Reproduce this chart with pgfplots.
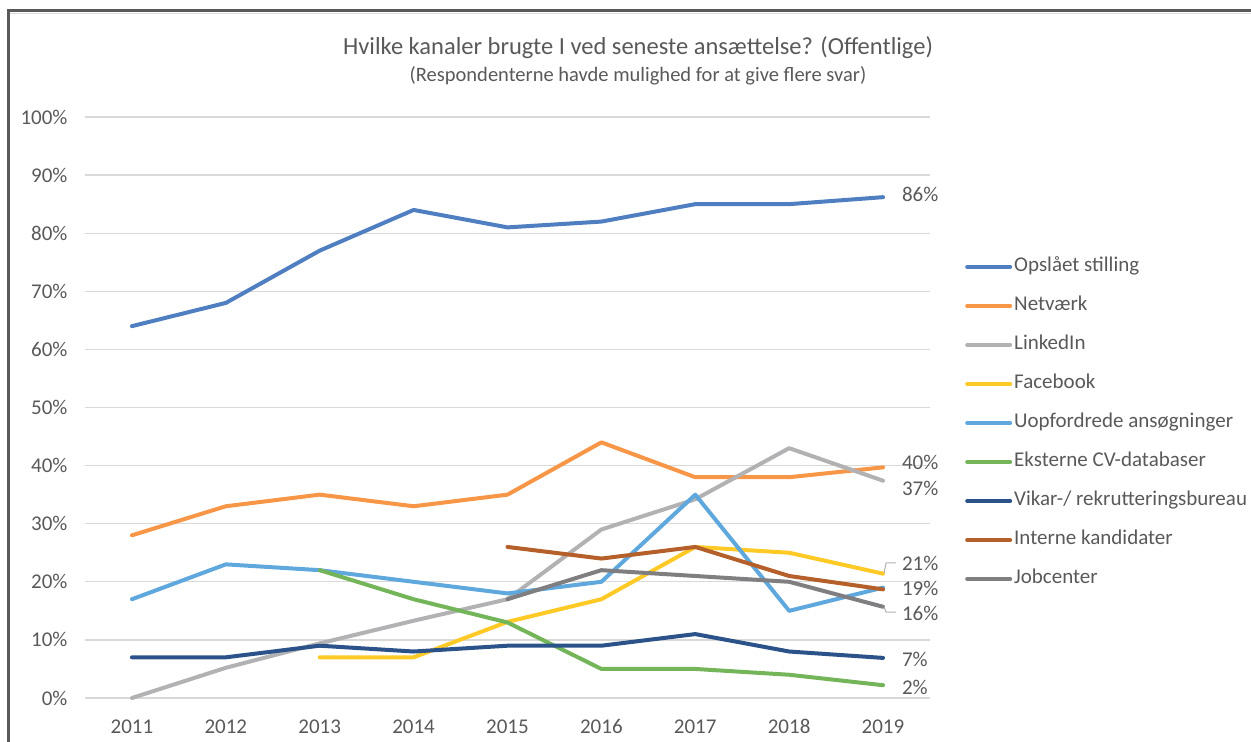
\documentclass[border=0pt]{standalone}
\usepackage{fontspec}
\setmainfont{Carlito}
\usepackage{pgfplots}
\pgfplotsset{compat=1.18}
\definecolor{txt}{HTML}{595959}
\definecolor{gridc}{HTML}{D9D9D9}
\definecolor{frame}{HTML}{595959}
\definecolor{cA}{HTML}{4F7FC0}
\definecolor{cB}{HTML}{F79646}
\definecolor{cC}{HTML}{B2B2B4}
\definecolor{cD}{HTML}{FFC926}
\definecolor{cE}{HTML}{5FA8DD}
\definecolor{cF}{HTML}{74B55A}
\definecolor{cG}{HTML}{2B5389}
\definecolor{cH}{HTML}{B5602A}
\definecolor{cI}{HTML}{7F7F82}
\begin{document}
\begin{tikzpicture}[x=1pt,y=1pt]
\path[use as bounding box] (0,0) rectangle (1251,742);
\draw[line width=1.5pt, color=gridc] (10,728.5) -- (1251,728.5);
\draw[line width=3pt, color=frame] (8.5,0) -- (8.5,731) -- (1251,731);
\node[txt, font=\fontsize{24.5}{28}\selectfont] at (638,694) {Hvilke kanaler brugte I ved seneste ansættelse? (Offentlige)};
\node[txt, font=\fontsize{20.5}{24}\selectfont] at (638,666) {(Respondenterne havde mulighed for at give flere svar)};
\begin{axis}[
  at={(85pt,44pt)}, anchor=south west,
  scale only axis, width=845pt, height=581pt,
  xmin=2010.5, xmax=2019.5, ymin=0, ymax=100, clip=false,
  xtick={2011,...,2019}, ytick={0,10,...,100},
  /pgf/number format/assume math mode=true,
  xticklabel style={/pgf/number format/1000 sep={}, yshift=-18pt},
  yticklabel style={xshift=-14pt},
  yticklabel={\pgfmathprintnumber{\tick}\%},
  ticklabel style={txt, font=\fontsize{21}{25}\selectfont},
  axis line style={draw=none}, tick style={draw=none},
  ymajorgrids, major grid style={gridc, line width=1.3pt},
  every axis plot/.append style={line width=4pt, line join=round, line cap=round},
  legend style={at={(1.0414,0.763)}, anchor=north west, draw=none, fill=none,
    font=\fontsize{21}{25}\selectfont, text=txt, row sep=15pt, inner sep=0pt,
    nodes={text height=15pt, text depth=5pt, inner ysep=2pt, inner xsep=2pt}},
  legend cell align=left,
  legend image code/.code={\draw[#1] (2pt,0pt) -- (45pt,0pt);},
]
\addplot[cA] coordinates {(2011,64)(2012,68)(2013,77)(2014,84)(2015,81)(2016,82)(2017,85)(2018,85)(2019,86.2)};
\addlegendentry{Opslået stilling}
\addplot[cB] coordinates {(2011,28)(2012,33)(2013,35)(2014,33)(2015,35)(2016,44)(2017,38)(2018,38)(2019,39.7)};
\addlegendentry{Netværk}
\addplot[cC] coordinates {(2011,0)(2012,5.2)(2013,9.4)(2014,13.3)(2015,17)(2016,29)(2017,34.2)(2018,43)(2019,37.4)};
\addlegendentry{LinkedIn}
\addplot[cD] coordinates {(2013,7)(2014,7)(2015,13.1)(2016,17)(2017,26)(2018,25)(2019,21.4)};
\addlegendentry{Facebook}
\addplot[cE] coordinates {(2011,17)(2012,23)(2013,22)(2014,20)(2015,18)(2016,20)(2017,35)(2018,15)(2019,19)};
\addlegendentry{Uopfordrede ansøgninger}
\addplot[cF] coordinates {(2013,22)(2014,17)(2015,13)(2016,5)(2017,5)(2018,4)(2019,2.2)};
\addlegendentry{Eksterne CV-databaser}
\addplot[cG] coordinates {(2011,7)(2012,7)(2013,9)(2014,8)(2015,9)(2016,9)(2017,11)(2018,8)(2019,6.9)};
\addlegendentry{Vikar-/ rekrutteringsbureau}
\addplot[cH] coordinates {(2015,26)(2016,24)(2017,26)(2018,21)(2019,18.7)};
\addlegendentry{Interne kandidater}
\addplot[cI] coordinates {(2015,17)(2016,22)(2017,21)(2018,20)(2019,15.7)};
\addlegendentry{Jobcenter}
\draw[gray!60, line width=1pt] (axis cs:2019.01,21.5) -- (axis cs:2019.032,23.24) -- (axis cs:2019.138,23.24);
\draw[gray!60, line width=1pt] (axis cs:2019.01,15.66) -- (axis cs:2019.032,14.8) -- (axis cs:2019.138,14.8);
\begin{scope}[every node/.style={anchor=west, inner sep=0pt, text=txt, font=\fontsize{21}{25}\selectfont}]
\node at (axis cs:2019.2,86.7) {86\%};
\node at (axis cs:2019.2,40.6) {40\%};
\node at (axis cs:2019.2,36.1) {37\%};
\node at (axis cs:2019.2,23.2) {21\%};
\node at (axis cs:2019.2,18.8) {19\%};
\node at (axis cs:2019.2,14.6) {16\%};
\node at (axis cs:2019.2,6.7) {7\%};
\node at (axis cs:2019.2,1.9) {2\%};
\end{scope}
\end{axis}
\end{tikzpicture}
\end{document}
